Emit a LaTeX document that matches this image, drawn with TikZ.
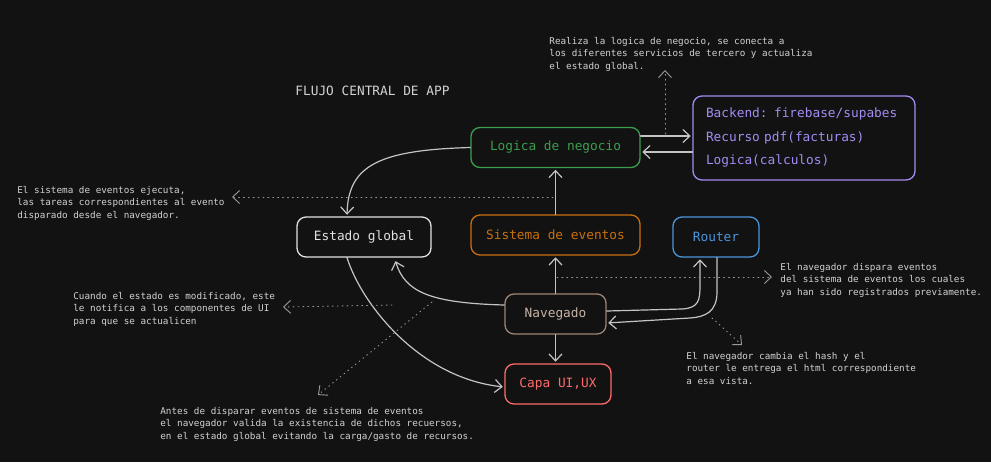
\documentclass[tikz,border=0pt]{standalone}
\usepackage{fontspec}
\setmonofont{DejaVu Sans Mono}
\usetikzlibrary{arrows.meta}
\definecolor{fondo}{HTML}{121212}
\definecolor{linea}{HTML}{C4C4C4}
\definecolor{gristxt}{HTML}{D2D2D2}
\definecolor{punteo}{HTML}{9A9A9A}
\definecolor{verde}{HTML}{3A9E4E}
\definecolor{morado}{HTML}{A48CF2}
\definecolor{naranja}{HTML}{C8700C}
\definecolor{azul}{HTML}{4A96DC}
\definecolor{cafe}{HTML}{A08573}
\definecolor{cafeclaro}{HTML}{C8B2A6}
\definecolor{rojo}{HTML}{FF6B6B}
\definecolor{blanco}{HTML}{E2E2E2}
\tikzset{
	caja/.style={draw=#1,text=#1,rounded corners=4.5pt,line width=0.65pt,minimum height=20pt,inner sep=0pt,font=\ttfamily\fontsize{6.4}{8}\selectfont},
	nota/.style={text=gristxt,align=left,anchor=base west,inner sep=0pt,font=\ttfamily\fontsize{4.65}{6.25}\selectfont},
	flecha/.style={draw=linea,line width=0.6pt,->,shorten >=0.8pt},
	pista/.style={draw=punteo,line width=0.45pt,dotted,->}
}
\begin{document}
\begin{tikzpicture}[x=0.5pt,y=-0.5pt,line join=round,line cap=round,>={Straight Barb[length=3.5pt,width=6.5pt]}]
	\fill[fondo] (0,0) rectangle (991,462);
	\useasboundingbox (0,0) rectangle (991,462);
	% cajas
	\node[caja=verde,minimum width=84.5pt] (logica) at (555.5,147.5) {Logica de negocio};
	\node[caja=morado,minimum width=111pt,minimum height=42pt,text width=98pt,align=left,font=\ttfamily\fontsize{6.4}{11.75}\selectfont] (backend) at (804,138) {Backend: firebase/supabes\\Recurso pdf(facturas)\\Logica(calculos)};
	\node[caja=blanco,minimum width=67pt] (estado) at (364,237) {Estado global};
	\node[caja=naranja,minimum width=84.5pt] (sistema) at (555.5,235) {Sistema de eventos};
	\node[caja=azul,minimum width=43pt] (router) at (716,237) {Router};
	\node[caja=cafe,text=cafeclaro,minimum width=50.5pt] (navegado) at (555.5,314) {Navegado};
	\node[caja=rojo,minimum width=53pt] (capa) at (558,384) {Capa UI,UX};
	\node[text=gristxt,anchor=base west,inner sep=0pt,font=\ttfamily\fontsize{6.4}{8}\selectfont] (titulo) at (295,95) {FLUJO CENTRAL DE APP};
	% notas (anclas en la ultima linea)
	\node[nota] (nLogica) at (549,69) {Realiza la logica de negocio, se conecta a\\los diferentes servicios de tercero y actualiza\\el estado global.};
	\node[nota] (nSistema) at (17,218) {El sistema de eventos ejecuta,\\las tareas correspondientes al evento\\disparado desde el navegador.};
	\node[nota] (nEstado) at (73,324) {Cuando el estado es modificado, este\\le notifica a los componentes de UI\\para que se actualicen};
	\node[nota] (nValida) at (160,439) {Antes de disparar eventos de sistema de eventos\\el navegador valida la existencia de dichos recuersos,\\en el estado global evitando la carga/gasto de recursos.};
	\node[nota] (nRouter) at (686,384) {El navegador cambia el hash y el\\router le entrega el html correspondiente\\a esa vista.};
	\node[nota] (nDispara) at (780,295) {El navegador dispara eventos\\del sistema de eventos los cuales\\ya han sido registrados previamente.};
	% conexiones
	\draw[flecha] (logica.west) .. controls (380,150) and (348,165) .. ([xshift=-8.5pt]estado.north);
	\draw[flecha] ([yshift=5.75pt]logica.east) -- ([yshift=5.75pt]logica.east -| backend.west);
	\draw[flecha] ([yshift=-2.25pt]logica.east -| backend.west) -- ([yshift=-2.25pt]logica.east);
	\draw[flecha] (sistema) -- (logica);
	\draw[flecha] (navegado) -- (sistema);
	\draw[flecha] (navegado.south) -- (navegado.south |- capa.north);
	\draw[flecha] ([yshift=4.5pt]navegado.west) .. controls (430,303) and (405,292) .. ([xshift=15.5pt,yshift=-1pt]estado.south);
	\draw[flecha] ([xshift=-8.5pt]estado.south) .. controls (362,305) and (420,378) .. ([yshift=-1.5pt]capa.west);
	\draw[flecha] ([yshift=1.5pt]navegado.east) -- (682,309) .. controls (699,308) and (700,300) .. (700,285) -- ([xshift=-8pt]router.south);
	\draw[flecha] ([xshift=0.5pt]router.south) -- (717,292) .. controls (717,312) and (705,317) .. (690,318) -- ([yshift=-4.5pt]navegado.east);
	% pistas punteadas
	\path
	(665,134) coordinate (p1) (665,70) coordinate (q1)
	(553,197) coordinate (p2) (232,197) coordinate (q2)
	(392,305) coordinate (p3) (283,307) coordinate (q3)
	(432,302) coordinate (p4) (318,395) coordinate (q4)
	(557,277) coordinate (p5) (772,277) coordinate (q5)
	(712,318) coordinate (p6) (742,345) coordinate (q6)
	;
	\foreach \a/\b in {p1/q1,p2/q2,p3/q3,p4/q4,p5/q5,p6/q6}
	\draw[pista] (\a) -- (\b);
\end{tikzpicture}
\end{document}
